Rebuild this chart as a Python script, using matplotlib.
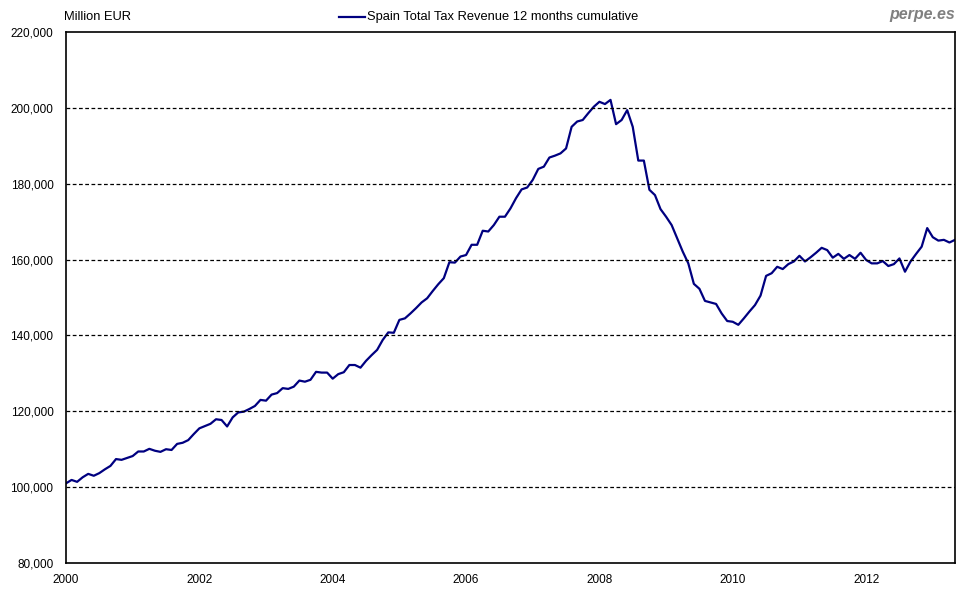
import numpy as np
import matplotlib
matplotlib.use("Agg")
import matplotlib.pyplot as plt
from matplotlib.ticker import FuncFormatter
from matplotlib.lines import Line2D

plt.rcParams['font.family'] = ['Liberation Sans', 'DejaVu Sans']

# Spain total tax revenue, 12 months cumulative, thousand million EUR, monthly from Jan 2000
revenue_k = [
    101.0, 101.9, 101.4, 102.6, 103.5, 103.0, 103.7, 104.7, 105.6, 107.4, 107.2, 107.7,
    108.2, 109.4, 109.4, 110.1, 109.6, 109.3, 110.0, 109.8, 111.4, 111.7, 112.4, 114.0,
    115.5, 116.1, 116.7, 117.9, 117.7, 116.0, 118.4, 119.7, 119.9, 120.6, 121.4, 123.0,
    122.8, 124.4, 124.8, 126.1, 125.9, 126.5, 128.1, 127.8, 128.3, 130.4, 130.2, 130.2,
    128.6, 129.8, 130.3, 132.2, 132.2, 131.5, 133.3, 134.8, 136.2, 138.8, 140.8, 140.7,
    144.1, 144.5, 145.8, 147.2, 148.7, 149.8, 151.7, 153.5, 155.1, 159.3, 159.2, 160.8,
    161.2, 163.9, 163.9, 167.6, 167.4, 169.1, 171.3, 171.3, 173.5, 176.2, 178.5, 179.0,
    181.0, 183.9, 184.5, 186.9, 187.4, 188.0, 189.3, 195.0, 196.4, 196.8, 198.6, 200.3,
    201.6, 201.0, 202.1, 195.7, 196.8, 199.4, 195.0, 186.1, 186.1, 178.4, 177.0, 173.3,
    171.3, 169.1, 165.6, 162.1, 159.0, 153.6, 152.3, 149.1, 148.7, 148.3, 145.8, 143.8,
    143.6, 142.8, 144.5, 146.3, 148.0, 150.5, 155.7, 156.4, 158.1, 157.5, 158.8, 159.5,
    161.0, 159.5, 160.6, 161.8, 163.1, 162.5, 160.5, 161.5, 160.2, 161.2, 160.2, 161.8,
    159.9, 159.0, 159.0, 159.6, 158.3, 158.8, 160.3, 156.8, 159.5, 161.5, 163.4, 168.3,
    165.9, 165.0, 165.2, 164.5, 165.2,
]
start_year = 2000
x_ticks = [2000, 2002, 2004, 2006, 2008, 2010, 2012]
y_ticks = [80000, 100000, 120000, 140000, 160000, 180000, 200000, 220000]

values = np.array(revenue_k) * 1000
t = start_year + np.arange(len(values)) / 12

fig = plt.figure(figsize=(9.8, 6), dpi=100)
ax = fig.add_axes([66 / 980, 37 / 600, (955 - 66) / 980, (563 - 32) / 600])

ax.plot(t, values, color='#000080', linewidth=1.6)

ax.set_xlim(t[0], t[-1])
ax.set_ylim(80000, 220000)
ax.set_xticks(x_ticks)
ax.set_yticks(y_ticks)
ax.yaxis.set_major_formatter(FuncFormatter(lambda v, p: f"{int(v):,}"))
ax.tick_params(axis='both', length=0, labelsize=8.5)
ax.tick_params(axis='y', pad=9)
ax.tick_params(axis='x', pad=8)

for yv in y_ticks[1:-1]:
    ax.axhline(yv, color='black', linestyle=(0, (3, 2)), linewidth=0.9)

for s in ax.spines.values():
    s.set_color('black')
    s.set_linewidth(1.2)

fig.text(64 / 980, 1 - 17 / 600, "Million EUR", fontsize=9.3, ha='left', va='center')
fig.text(955 / 980, 1 - 14 / 600, "perpe.es", fontsize=11.5, ha='right', va='center',
         color='#808080', fontweight='bold', fontstyle='italic')

fig.add_artist(Line2D([339 / 980, 365 / 980], [1 - 17 / 600, 1 - 17 / 600],
                      color='#000080', linewidth=1.6))
fig.text(367 / 980, 1 - 17 / 600, "Spain Total Tax Revenue 12 months cumulative",
         fontsize=9.3, ha='left', va='center')

fig.savefig("out.png", dpi=100)
